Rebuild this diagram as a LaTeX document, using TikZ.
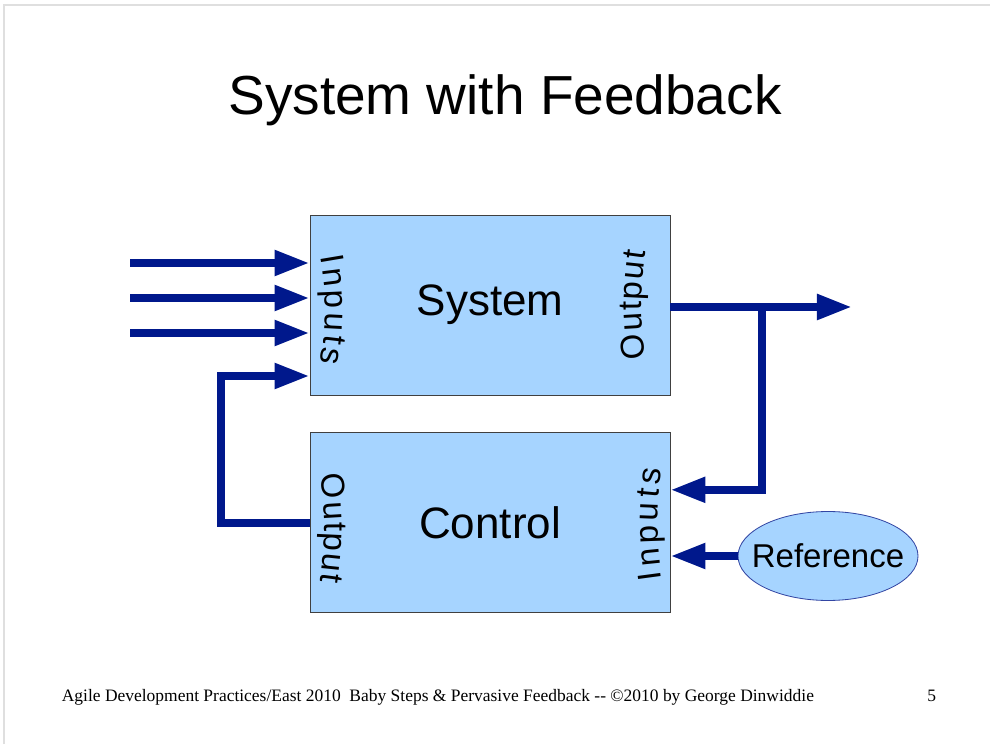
\documentclass[tikz,border=0pt]{standalone}
\usepackage{fontspec}
\setmainfont{Liberation Serif}
\setsansfont{Liberation Sans}
\usetikzlibrary{arrows.meta, positioning, shapes.geometric, calc,
                decorations.text}

\definecolor{boxblue}{RGB}{166,212,255}
\definecolor{flowblue}{RGB}{0,24,140}

\begin{document}
\begin{tikzpicture}[x=0.7272pt, y=0.7272pt,
    block/.style={draw=black!75, line width=0.6pt, fill=boxblue,
                  minimum width=261.8pt, minimum height=130.9pt,
                  font=\sffamily\fontsize{32}{38}\selectfont},
    flow/.style={draw=flowblue, line width=5.8pt,
                 -{Triangle[length=25.5pt, width=17.5pt]}},
    arc label/.style={decorate, decoration={text along path,
                  text align={fit to path},
                  text={|\sffamily\fontsize{24}{29}\selectfont|#1}}}]
  \useasboundingbox (0,0) rectangle (990,744);
  \draw[gray!25, line width=0.8pt] (4,0) -- (4,739) -- (990,739);

  \node[font=\sffamily\fontsize{40}{48}\selectfont, anchor=base]
    (title) at (505,629) {System with Feedback};

  \node[block] (sys) at (490,439) {System};
  \node[block, below=26.9pt of sys] (ctrl) {Control};
  \node[ellipse, draw=flowblue!80, line width=0.6pt, fill=boxblue,
        minimum width=130.9pt, minimum height=64.7pt, inner sep=0pt]
    (ref) at (828,188) {};
  \node[font=\sffamily\fontsize{24}{28}\selectfont] (reftext) at (ref)
    {Reference};

  % curved port labels
  \path[arc label=Inputs] (320,487) to[bend left=10] (320,381);
  \path[arc label=Output] (646,386) to[bend left=8] (646,493);
  \path[arc label=Output] (320,269) to[bend left=8] (320,162);
  \path[arc label=Inputs] (662,165) to[bend left=8] (662,275);

  % inputs
  \foreach \y/\n in {481/1, 446/2, 411/3} {
    \coordinate (in\n) at (130,\y);
    \draw[flow] (in\n) -- (in\n -| sys.west);
  }

  % feedback loop
  \coordinate (fb) at (221,368);
  \draw[flow] (ctrl.west) -| (fb) -- (fb -| sys.west);

  \coordinate (out) at (852,437);
  \coordinate (tap) at (762,437);
  \draw[flow] (sys.east |- out) -- (out);
  \draw[flow] (tap) |- ($(ctrl.east)+(0,33)$);
  \draw[flow] (ref) -- (ref -| ctrl.east);

  \node[font=\fontsize{12.7}{15}\selectfont, anchor=base west] (foot)
    at (57,43) {Agile Development Practices/East 2010\ \ Baby Steps \&
    Pervasive Feedback -{}- ©2010 by George Dinwiddie};
  \node[font=\fontsize{12.7}{15}\selectfont, anchor=base east] (pnum)
    at (941,43) {5};
\end{tikzpicture}
\end{document}
